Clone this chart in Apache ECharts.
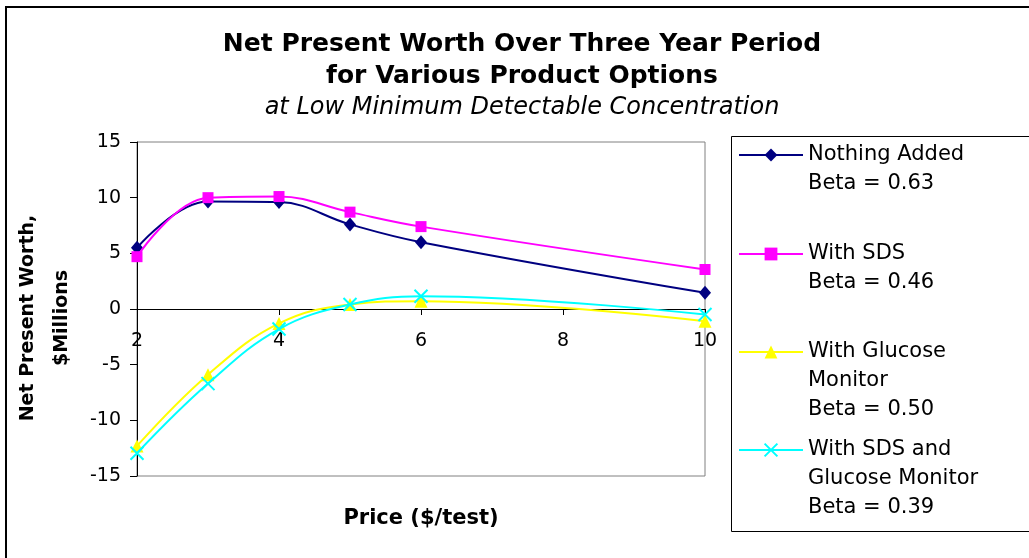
<!DOCTYPE html>
<html>
<head>
<meta charset="utf-8">
<script src="https://cdn.jsdelivr.net/npm/echarts@6/dist/echarts.min.js"></script>
<style>
  html, body { margin: 0; padding: 0; background: #fff; }
  #chart { width: 1029px; height: 558px; }
</style>
</head>
<body>
<div id="chart"></div>
<script>
// Price per test ($) at which each option was evaluated
const prices = [2, 3, 4, 5, 6, 10];

// Net present worth ($ millions) per option
const nothingAdded   = [5.5, 9.65, 9.6, 7.6, 6.0, 1.45];
const withSDS        = [4.7, 10.0, 10.1, 8.7, 7.4, 3.55];
const withGlucose    = [-12.3, -5.9, -1.3, 0.4, 0.7, -1.1];
const withSDSGlucose = [-12.95, -6.7, -1.8, 0.4, 1.15, -0.5];

// Legend entries: option name lines plus beta line
const seriesNames = ['Nothing Added', 'With SDS', 'With Glucose Monitor', 'With SDS and Glucose Monitor'];
const legendLines = [
  ['Nothing Added', 'Beta = 0.63'],
  ['With SDS', 'Beta = 0.46'],
  ['With Glucose', 'Monitor', 'Beta = 0.50'],
  ['With SDS and', 'Glucose Monitor', 'Beta = 0.39']
];

const yTicks = { min: -15, max: 15, step: 5 };
const xTicks = { min: 2, max: 10, step: 2 };

const FONT = '"DejaVu Sans", Arial, sans-serif';
const LINE_H = 29;

const colors = ['#000080', '#FF00FF', '#FFFF00', '#00FFFF'];
const symbols = ['diamond', 'rect', 'triangle', 'path://M0,0L10,10M10,0L0,10'];
const symbolSizes = [[12, 14], 11, 13, 13];
const values = [nothingAdded, withSDS, withGlucose, withSDSGlucose];

// vertical centre of each legend entry's first line
const legendRowY = [155, 254, 352, 450];

const series = seriesNames.map((name, i) => ({
  name: name,
  type: 'line',
  smooth: 0.4,
  data: prices.map((p, j) => [p, values[i][j]]),
  symbol: symbols[i],
  symbolSize: symbolSizes[i],
  showAllSymbol: true,
  lineStyle: { color: colors[i], width: 2 },
  itemStyle: i === 3
    ? { color: colors[i], borderColor: colors[i], borderWidth: 2 }
    : { color: colors[i], borderWidth: 0 },
  emphasis: { disabled: true },
  z: 2 + i
}));

// one legend per entry so the marker lines up with the first text line
const legends = seriesNames.map((name, i) => {
  const lines = legendLines[i];
  const pad = new Array(lines.length - 1).fill('');
  const total = pad.length + lines.length;
  return {
    data: [name],
    orient: 'vertical',
    left: 738,
    top: legendRowY[i] - total * LINE_H / 2,
    padding: 0,
    itemWidth: 64,
    itemHeight: 16,
    selectedMode: false,
    formatter: () => pad.concat(lines).join('\n'),
    textStyle: { fontFamily: FONT, fontSize: 21, color: '#000', lineHeight: LINE_H }
  };
});

const chart = echarts.init(document.getElementById('chart'), null, { renderer: 'canvas' });
chart.setOption({
  animation: false,
  backgroundColor: '#fff',
  title: {
    text: 'Net Present Worth Over Three Year Period\nfor Various Product Options',
    subtext: 'at Low Minimum Detectable Concentration',
    left: 522,
    textAlign: 'center',
    top: 28,
    padding: 0,
    itemGap: 2,
    textStyle: { fontFamily: FONT, fontSize: 25, fontWeight: 'bold', color: '#000', lineHeight: 32 },
    subtextStyle: { fontFamily: FONT, fontSize: 24, fontStyle: 'italic', color: '#000', lineHeight: 27 }
  },
  legend: legends,
  grid: {
    left: 137, right: 324, top: 142, bottom: 82,
    outerBoundsMode: 'none',
    containLabel: false,
    show: true, borderColor: '#808080', borderWidth: 1, backgroundColor: 'transparent'
  },
  xAxis: {
    type: 'value',
    min: xTicks.min, max: xTicks.max, interval: xTicks.step,
    name: 'Price ($/test)',
    nameLocation: 'middle',
    nameGap: 32,
    nameTextStyle: { fontFamily: FONT, fontSize: 21, fontWeight: 'bold', color: '#000' },
    axisLine: { onZero: true, lineStyle: { color: '#000', width: 1 } },
    axisTick: { show: true, length: 6, lineStyle: { color: '#000' } },
    // tick labels sit just under the zero line
    axisLabel: { margin: -144, fontFamily: FONT, fontSize: 19, color: '#000' },
    splitLine: { show: false }
  },
  yAxis: {
    type: 'value',
    min: yTicks.min, max: yTicks.max, interval: yTicks.step,
    name: 'Net Present Worth,\n$Millions',
    nameLocation: 'middle',
    nameRotate: 90,
    nameGap: 58,
    nameTextStyle: { fontFamily: FONT, fontSize: 19, fontWeight: 'bold', color: '#000', lineHeight: 34, padding: [0, 18, 0, 0] },
    axisLine: { show: true, onZero: false, lineStyle: { color: '#000', width: 1 } },
    axisTick: { show: true, length: 7, lineStyle: { color: '#000' } },
    axisLabel: { margin: 16, fontFamily: FONT, fontSize: 19, color: '#000' },
    splitLine: { show: false }
  },
  graphic: [
    {
      type: 'rect', silent: true, z: -1,
      shape: { x: 6, y: 7, width: 1100, height: 700 },
      style: { fill: 'none', stroke: '#000', lineWidth: 2 }
    },
    {
      type: 'rect', silent: true, z: -1,
      shape: { x: 731.5, y: 136.5, width: 400, height: 395 },
      style: { fill: 'none', stroke: '#000', lineWidth: 1 }
    }
  ],
  series: series
});
</script>
</body>
</html>
